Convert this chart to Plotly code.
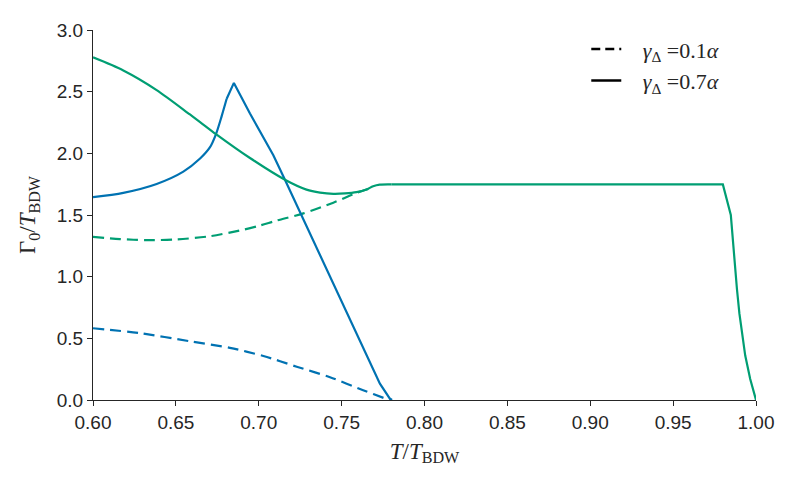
import plotly.graph_objects as go

# gamma = 0.7 alpha (solid)
green_solid_x = [0.600, 0.6183, 0.6384, 0.6585, 0.6646, 0.6742, 0.6947, 0.7158, 0.7288, 0.737, 0.745, 0.752,
                 0.759, 0.7649, 0.769, 0.773, 0.780, 0.850, 0.920, 0.980, 0.9848, 0.9865, 0.9885, 0.990,
                 0.9935, 0.9965, 1.000]
green_solid_y = [2.778, 2.672, 2.513, 2.315, 2.254, 2.156, 1.962, 1.786, 1.706, 1.682, 1.672, 1.675,
                 1.685, 1.706, 1.733, 1.746, 1.748, 1.748, 1.748, 1.748, 1.500, 1.190, 0.900, 0.700,
                 0.360, 0.170, 0.000]
blue_solid_x = [0.600, 0.6183, 0.6384, 0.6545, 0.6646, 0.6706, 0.6742, 0.6776, 0.6806, 0.685, 0.6947,
                0.7088, 0.7158, 0.7409, 0.7731, 0.779, 0.7804]
blue_solid_y = [1.645, 1.680, 1.752, 1.852, 1.958, 2.050, 2.156, 2.300, 2.440, 2.571, 2.323,
                1.984, 1.786, 1.058, 0.132, 0.013, 0.000]

# gamma = 0.1 alpha (dashed)
green_dash_x = [0.600, 0.6163, 0.6323, 0.6505, 0.6706, 0.6907, 0.7008, 0.7108, 0.7269, 0.745, 0.759, 0.767]
green_dash_y = [1.323, 1.305, 1.296, 1.302, 1.328, 1.381, 1.415, 1.455, 1.513, 1.600, 1.680, 1.715]
blue_dash_x = [0.600, 0.6283, 0.6585, 0.6826, 0.7028, 0.7229, 0.743, 0.763, 0.7772, 0.779]
blue_dash_y = [0.582, 0.542, 0.476, 0.423, 0.357, 0.270, 0.185, 0.079, 0.008, 0.000]

legend_labels = ["<i>γ</i><sub>Δ</sub> =0.1<i>α</i>", "<i>γ</i><sub>Δ</sub> =0.7<i>α</i>"]

BLUE = "#0072B2"
GREEN = "#009E73"
DASH = "11px,6px"
LW = 2.2

# split points: smooth (spline) part and sharp (linear) part
G_SPLIT = green_solid_x.index(0.780)
B_SPLIT = blue_solid_x.index(0.6806)

fig = go.Figure()
fig.add_trace(go.Scatter(x=blue_dash_x, y=blue_dash_y, mode="lines", line_shape="spline",
                         line=dict(color=BLUE, width=LW, dash=DASH, smoothing=0.8), showlegend=False))
fig.add_trace(go.Scatter(x=green_dash_x, y=green_dash_y, mode="lines", line_shape="spline",
                         line=dict(color=GREEN, width=LW, dash=DASH, smoothing=0.8), showlegend=False))
fig.add_trace(go.Scatter(x=blue_solid_x[:B_SPLIT + 1], y=blue_solid_y[:B_SPLIT + 1], mode="lines",
                         line_shape="spline",
                         line=dict(color=BLUE, width=LW, smoothing=0.8), showlegend=False))
fig.add_trace(go.Scatter(x=blue_solid_x[B_SPLIT:], y=blue_solid_y[B_SPLIT:], mode="lines",
                         line=dict(color=BLUE, width=LW), showlegend=False))
fig.add_trace(go.Scatter(x=green_solid_x[:G_SPLIT + 1], y=green_solid_y[:G_SPLIT + 1], mode="lines",
                         line_shape="spline",
                         line=dict(color=GREEN, width=LW, smoothing=0.8), showlegend=False))
fig.add_trace(go.Scatter(x=green_solid_x[G_SPLIT:], y=green_solid_y[G_SPLIT:], mode="lines",
                         line=dict(color=GREEN, width=LW), showlegend=False))
fig.add_trace(go.Scatter(x=[None], y=[None], mode="lines", name="&nbsp;&nbsp;&nbsp;" + legend_labels[0],
                         legendgroup="a", line=dict(color="black", width=2.6, dash="9px,5px")))
fig.add_trace(go.Scatter(x=[None], y=[None], mode="lines", name="&nbsp;&nbsp;&nbsp;" + legend_labels[1],
                         legendgroup="b", line=dict(color="black", width=2.6)))

axis_common = dict(showgrid=False, zeroline=False, showline=True, linecolor="#262626",
                   linewidth=1.3, ticks="outside", ticklen=5, tickwidth=1.3, tickcolor="#262626",
                   tickfont=dict(family="Liberation Sans, Arial, sans-serif", size=19, color="#262626"),
                   mirror=False)

serif = "Liberation Serif, DejaVu Serif, serif"

fig.update_layout(
    width=789, height=486,
    margin=dict(l=85, r=41, t=14, b=94),
    plot_bgcolor="white", paper_bgcolor="white",
    xaxis=dict(range=[0.6, 1.0], tickvals=[0.60, 0.65, 0.70, 0.75, 0.80, 0.85, 0.90, 0.95, 1.00],
               tickformat=".2f",
               title=dict(text="<i>T</i>/<i>T</i><sub>BDW</sub>",
                          font=dict(family=serif, size=23, color="#262626"),
                          standoff=10),
               **axis_common),
    yaxis=dict(range=[0, 3.0], tickvals=[0, 0.5, 1.0, 1.5, 2.0, 2.5, 3.0], tickformat=".1f",
               title=dict(text="Γ<sub>0</sub>/<i>T</i><sub>BDW</sub>",
                          font=dict(family=serif, size=23, color="#262626"),
                          standoff=14),
               **axis_common),
    legend=dict(x=0.744, y=1.005, xanchor="left", yanchor="top", bgcolor="rgba(0,0,0,0)",
                tracegroupgap=0, traceorder="grouped",
                font=dict(family=serif, size=22, color="#262626")),
)

fig.write_html("out.html")
